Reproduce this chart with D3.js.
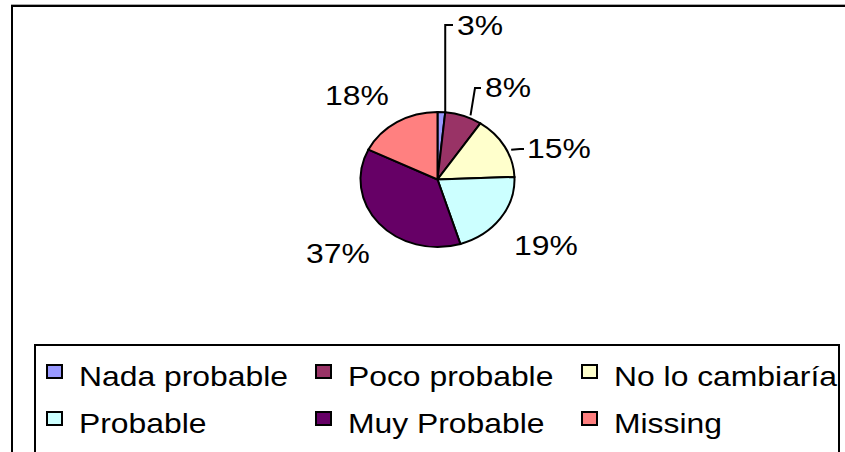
<!DOCTYPE html>
<html>
<head>
<meta charset="utf-8">
<script src="https://cdn.jsdelivr.net/npm/d3@7"></script>
<style>
  body { margin: 0; background: #fff; }
  text { font-family: Arial, "Liberation Sans", sans-serif; fill: #000; }
</style>
</head>
<body>
<svg class="chart"></svg>
<script>
// data
var categories = ["Nada probable", "Poco probable", "No lo cambiaría", "Probable", "Muy Probable", "Missing"];
var values = [1.6, 7.8, 15.0, 20.8, 37.1, 17.7];
var pctLabels = ["3%", "8%", "15%", "19%", "37%", "18%"];
var colors = ["#9999FF", "#993366", "#FFFFCC", "#CCFFFF", "#660066", "#FF8080"];

var width = 845;
var height = 452;
var fontSize = 27;
var stretch = 1.18;

var svg = d3.select(".chart").attr("width", width).attr("height", height);

// outer frame
svg.append("line")
  .attr("x1", 11).attr("x2", width).attr("y1", 4.5).attr("y2", 4.5)
  .attr("stroke", "#aaa").attr("stroke-width", 1);
svg.append("rect")
  .attr("x", 12).attr("y", 6).attr("width", 900).attr("height", 500)
  .attr("fill", "none").attr("stroke", "#000").attr("stroke-width", 2);

// pie (squashed a bit vertically like the original)
var cx = 437.5, cy = 179.5, rx = 77, ry = 67.5;

var pie = d3.pie().sort(null).value(function(d) { return d; });
var arcs = pie(values);
var arc = d3.arc().innerRadius(0).outerRadius(rx);

var pieG = svg.append("g")
  .attr("transform", "translate(" + cx + "," + cy + ") scale(1," + (ry / rx) + ")");

pieG.selectAll("path")
  .data(arcs)
  .enter().append("path")
  .attr("d", arc)
  .attr("fill", function(d, i) { return colors[i]; })
  .attr("stroke", "#000")
  .attr("stroke-width", 2)
  .attr("vector-effect", "non-scaling-stroke");

function edgePoint(a, extra) {
  return [cx + (rx + extra) * Math.sin(a), cy - (ry + extra) * Math.cos(a)];
}

// label placement (text x, baseline y) and leader bends
var labelPos = [[457, 35], [485, 97], [527, 158], [514, 255], [306, 263], [325, 105]];
var leaders = {
  0: function(d) { var p = edgePoint(d.endAngle, 0); return [p, [p[0], 25], [453, 25]]; },
  1: function(d) { return [edgePoint((d.startAngle + d.endAngle) / 2 + 0.08, 3), [475, 88], [481, 88]]; },
  2: function(d) { return [edgePoint((d.startAngle + d.endAngle) / 2 + 0.08, 4), [520, 149], [524, 149]]; }
};

arcs.forEach(function(d, i) {
  if (leaders[i]) {
    svg.append("path")
      .attr("d", d3.line()(leaders[i](d)))
      .attr("fill", "none")
      .attr("stroke", "#000")
      .attr("stroke-width", 2);
  }
  svg.append("text")
    .attr("transform", "translate(" + labelPos[i][0] + "," + labelPos[i][1] + ") scale(" + stretch + ",1)")
    .attr("font-size", fontSize)
    .text(pctLabels[i]);
});

// legend
svg.append("rect")
  .attr("x", 35).attr("y", 345).attr("width", 804).attr("height", 200)
  .attr("fill", "none").attr("stroke", "#000").attr("stroke-width", 2);

var colX = [47, 316, 582];
var rowY = [386, 433];

var items = svg.selectAll(".legend-item")
  .data(categories)
  .enter().append("g")
  .attr("class", "legend-item")
  .attr("transform", function(d, i) {
    return "translate(" + colX[i % 3] + "," + rowY[Math.floor(i / 3)] + ")";
  });

items.append("rect")
  .attr("x", 0).attr("y", -21).attr("width", 15).attr("height", 13)
  .attr("fill", function(d, i) { return colors[i]; })
  .attr("stroke", "#000").attr("stroke-width", 2);

items.append("text")
  .attr("transform", "translate(32,0) scale(" + stretch + ",1)")
  .attr("font-size", fontSize)
  .text(function(d) { return d; });
</script>
</body>
</html>
